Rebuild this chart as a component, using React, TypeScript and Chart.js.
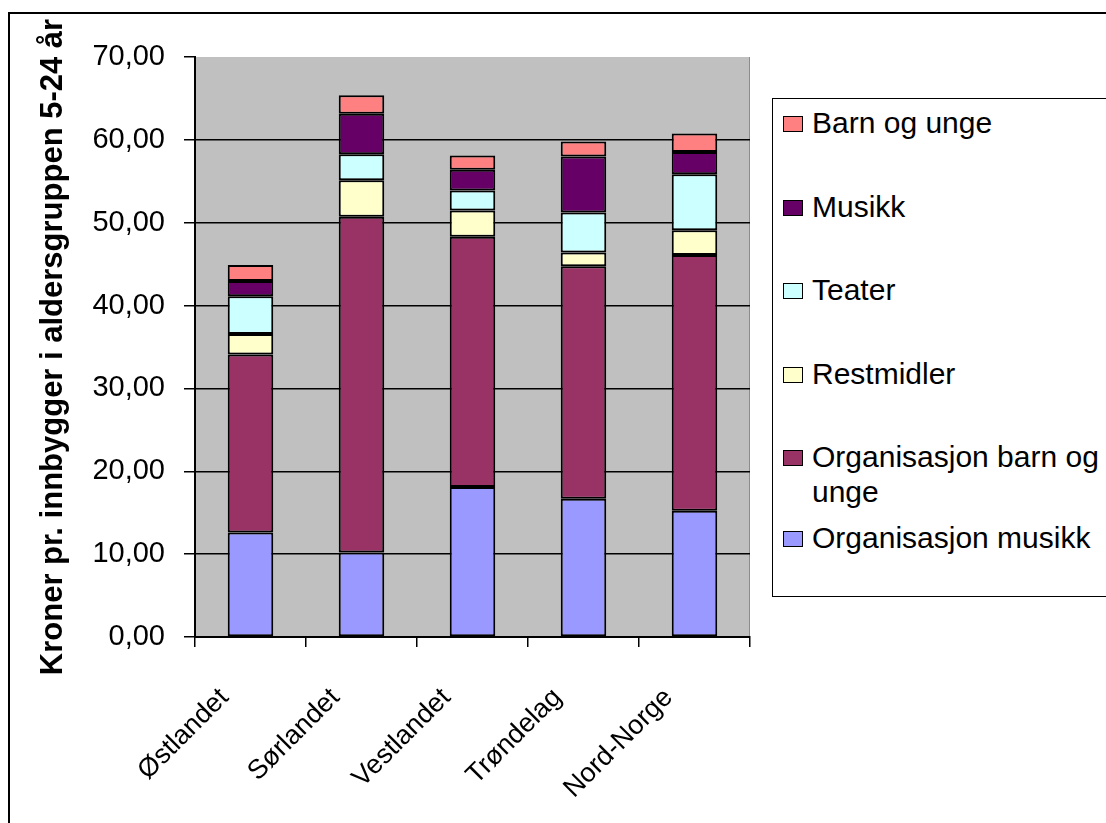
import React, { useEffect, useRef } from "react";
import { Chart, registerables } from "chart.js";

Chart.register(...registerables);

// ---- data ----
const categories = ["Østlandet", "Sørlandet", "Vestlandet", "Trøndelag", "Nord-Norge"];
const orgMusikk = [12.6, 10.2, 18.1, 16.7, 15.24];
const orgBarnOgUnge = [21.5, 40.53, 30.2, 28.04, 30.86];
const restmidler = [2.47, 4.41, 3.16, 1.66, 2.98];
const teater = [4.57, 3.12, 2.44, 4.82, 6.76];
const musikk = [1.83, 4.9, 2.5, 6.78, 2.69];
const barnOgUnge = [1.93, 2.22, 1.7, 1.8, 2.25];
const seriesNames = [
  "Organisasjon musikk",
  "Organisasjon barn og unge",
  "Restmidler",
  "Teater",
  "Musikk",
  "Barn og unge",
];
const seriesValues = [orgMusikk, orgBarnOgUnge, restmidler, teater, musikk, barnOgUnge];
const seriesColors = ["#9999FF", "#993366", "#FFFFCC", "#CCFFFF", "#660066", "#FF8080"];
const yMin = 0;
const yMax = 70;
const yStep = 10;
const yTitle = "Kroner pr. innbygger i aldersgruppen 5-24 år";

const FONT = "'Liberation Sans', Arial, Helvetica, sans-serif";

const plotBg = {
  id: "plotBg",
  beforeDraw(chart: any) {
    const { ctx, chartArea } = chart;
    const { left, top, right, bottom } = chartArea;
    ctx.save();
    ctx.fillStyle = "#C0C0C0";
    ctx.fillRect(left, top, right - left, bottom - top);
    ctx.strokeStyle = "#8C8C8C";
    ctx.lineWidth = 1;
    ctx.beginPath();
    ctx.moveTo(right - 0.5, top);
    ctx.lineTo(right - 0.5, bottom);
    ctx.stroke();
    ctx.restore();
  },
};

export default function App() {
  const canvasRef = useRef<HTMLCanvasElement | null>(null);

  useEffect(() => {
    if (!canvasRef.current) return;
    const chart = new Chart(canvasRef.current, {
      type: "bar",
      data: {
        labels: categories,
        datasets: seriesNames.map((name, i) => ({
          label: name,
          data: seriesValues[i],
          backgroundColor: seriesColors[i],
          borderColor: "#000000",
          borderWidth: 2,
          borderSkipped: false,
          barPercentage: 0.41,
          categoryPercentage: 1,
        })),
      },
      options: {
        animation: false,
        responsive: false,
        devicePixelRatio: 1,
        layout: { padding: { left: 0, right: 10, top: 57, bottom: 0 } },
        plugins: {
          legend: { display: false },
          tooltip: { enabled: false },
        },
        scales: {
          x: {
            stacked: true,
            afterFit(scale: any) {
              scale.height = 186;
            },
            grid: {
              offset: true,
              drawOnChartArea: false,
              drawTicks: true,
              tickLength: 10,
              color: "#000000",
              lineWidth: 1.5,
            },
            border: { display: true, color: "#000000", width: 2 },
            ticks: {
              autoSkip: false,
              minRotation: 45,
              maxRotation: 45,
              padding: 35,
              labelOffset: -26,
              color: "#000000",
              font: { family: FONT, size: 27 },
            },
          },
          y: {
            stacked: true,
            min: yMin,
            max: yMax,
            afterFit(scale: any) {
              scale.width = 195;
            },
            grid: {
              color: (ctx: any) => (ctx.tick && ctx.tick.value === yMax ? "rgba(0,0,0,0)" : "#000000"),
              tickColor: "#000000",
              lineWidth: 1.5,
              tickLength: 11,
            },
            border: { display: true, color: "#000000", width: 2 },
            ticks: {
              stepSize: yStep,
              padding: 19,
              color: "#000000",
              font: { family: FONT, size: 29 },
              callback: (v: any) => Number(v).toFixed(2).replace(".", ","),
            },
            title: {
              display: true,
              text: yTitle,
              color: "#000000",
              font: { family: FONT, size: 31, weight: "bold" },
              padding: { top: 35, bottom: 0 },
            },
          },
        },
      },
      plugins: [plotBg],
    });
    return () => chart.destroy();
  }, []);

  const legendOrder = seriesNames.map((n, i) => i).reverse();

  return (
    <div>
      <div
        style={{
          position: "fixed",
          left: 8,
          top: 12,
          width: 1200,
          height: 900,
          border: "2px solid #000",
          background: "#fff",
        }}
      />
      <canvas
        ref={canvasRef}
        width={760}
        height={823}
        style={{ position: "fixed", left: 0, top: 0, width: 760, height: 823 }}
      />
      <div
        style={{
          position: "fixed",
          left: 772,
          top: 98,
          width: 420,
          height: 499,
          border: "1.5px solid #000",
          background: "#fff",
          boxSizing: "border-box",
          fontFamily: FONT,
          fontSize: 30,
          lineHeight: "35px",
          color: "#000",
        }}
      >
        {legendOrder.map((si, idx) => {
          const top = idx < 5 ? 6 + 83.5 * idx : 6 + 83.5 * 4 + 81;
          return (
            <div key={si} style={{ position: "absolute", left: 10, top, display: "flex" }}>
              <div
                style={{
                  width: 20,
                  height: 16,
                  marginTop: 11,
                  background: seriesColors[si],
                  border: "1px solid #000",
                  boxSizing: "border-box",
                  flex: "0 0 auto",
                }}
              />
              <div style={{ marginLeft: 9, width: 300 }}>{seriesNames[si]}</div>
            </div>
          );
        })}
      </div>
    </div>
  );
}
